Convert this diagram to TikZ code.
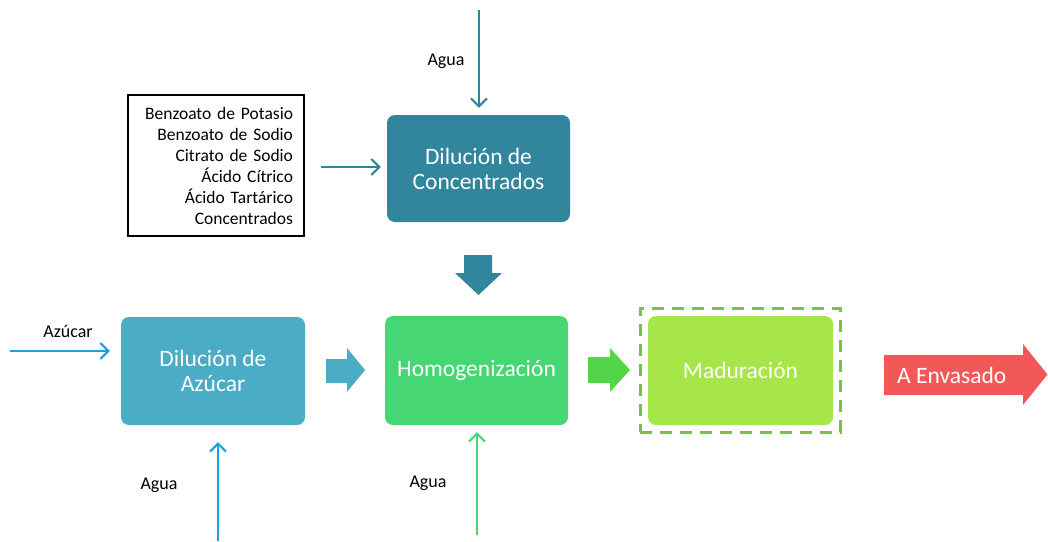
\documentclass[tikz,border=0pt]{standalone}
\usepackage{fontspec}
\setmainfont{Carlito}
\usetikzlibrary{arrows.meta}
\definecolor{cteal}{RGB}{49,133,156}
\definecolor{caqua}{RGB}{75,172,198}
\definecolor{cblue}{RGB}{28,160,222}
\definecolor{chomog}{RGB}{70,214,115}
\definecolor{cgreenarr}{RGB}{84,214,72}
\definecolor{clime}{RGB}{166,230,72}
\definecolor{cdash}{RGB}{120,192,70}
\definecolor{cred}{RGB}{243,88,88}
\begin{document}
\begin{tikzpicture}[x=1pt,y=-1pt,
  proc/.style={rounded corners=8pt, text=white, font=\fontsize{23.5}{25}\selectfont, align=center, inner sep=0pt},
  lbl/.style={font=\fontsize{18}{21}\selectfont, text=black, inner sep=0pt},
  flow/.style={line width=2pt, -{Straight Barb[length=8pt,width=16pt]}},
]
\useasboundingbox (0,0) rectangle (1048,541);

% process boxes
\node[proc, fill=cteal, minimum width=183pt, minimum height=107pt] (conc) at (478.5,168.5) {Diluci\'on de\\Concentrados};
\node[proc, fill=caqua, minimum width=184pt, minimum height=108pt] (azu) at (213,371) {Diluci\'on de\\Az\'ucar};
\node[proc, fill=chomog, minimum width=183pt, minimum height=109pt] (homog) at (476.5,370.5) {Homogenizaci\'on};
\node[proc, fill=clime, minimum width=185pt, minimum height=109pt] (madur) at (740.5,370.5) {Maduraci\'on};
\node[draw=cdash, line width=3pt, dash pattern=on 12pt off 8pt, minimum width=200pt, minimum height=124pt, inner sep=0pt] (mframe) at (740,370) {};

% ingredient box
\node[draw=black, line width=1.6pt, align=right, text width=154pt, inner xsep=11pt, minimum height=141pt,
  font=\fontsize{17.5}{21}\selectfont] (txt) at (216,165.5)
  {Benzoato de Potasio\\Benzoato de Sodio\\Citrato de Sodio\\\'Acido C\'itrico\\\'Acido Tart\'arico\\Concentrados};

% labels
\node[lbl] (l1) at (446,61) {Agua};
\node[lbl] (l2) at (68,331) {Az\'ucar};
\node[lbl] (l3) at (159,485) {Agua};
\node[lbl] (l4) at (428,483) {Agua};

% inputs
\coordinate (a1) at (479,10);
\coordinate (a2) at (10,351);
\coordinate (a3) at (218,541);
\coordinate (a4) at (477,535);
\draw[flow, cteal] (a1) -- (a1 |- conc.north) [shorten >=7pt];
\draw[flow, cteal, shorten <=16pt, shorten >=6pt] (txt.east |- 0,167) -- (conc.west |- 0,167);
\draw[flow, cblue, shorten >=11pt] (a2) -- (a2 -| azu.west);
\draw[flow, cblue, shorten >=17pt] (a3) -- (a3 |- azu.south);
\draw[flow, chomog, shorten >=7pt] (a4) -- (a4 |- homog.south);

% block arrows
\fill[cteal] (464,255) -- (492,255) -- (492,273) -- (502,273) -- (478.5,295) -- (455,273) -- (464,273) -- cycle;
\fill[caqua] (326,359) -- (347,359) -- (347,348) -- (365,370) -- (347,392) -- (347,383) -- (326,383) -- cycle;
\fill[cgreenarr] (588,357) -- (610,357) -- (610,348) -- (630,370) -- (610,392) -- (610,383) -- (588,383) -- cycle;
\fill[cred] (884,355) -- (1023,355) -- (1023,344) -- (1047.5,374.5) -- (1023,405) -- (1023,395) -- (884,395) -- cycle;
\node[proc, anchor=west] (env) at (897,375) {A Envasado};
\end{tikzpicture}
\end{document}
